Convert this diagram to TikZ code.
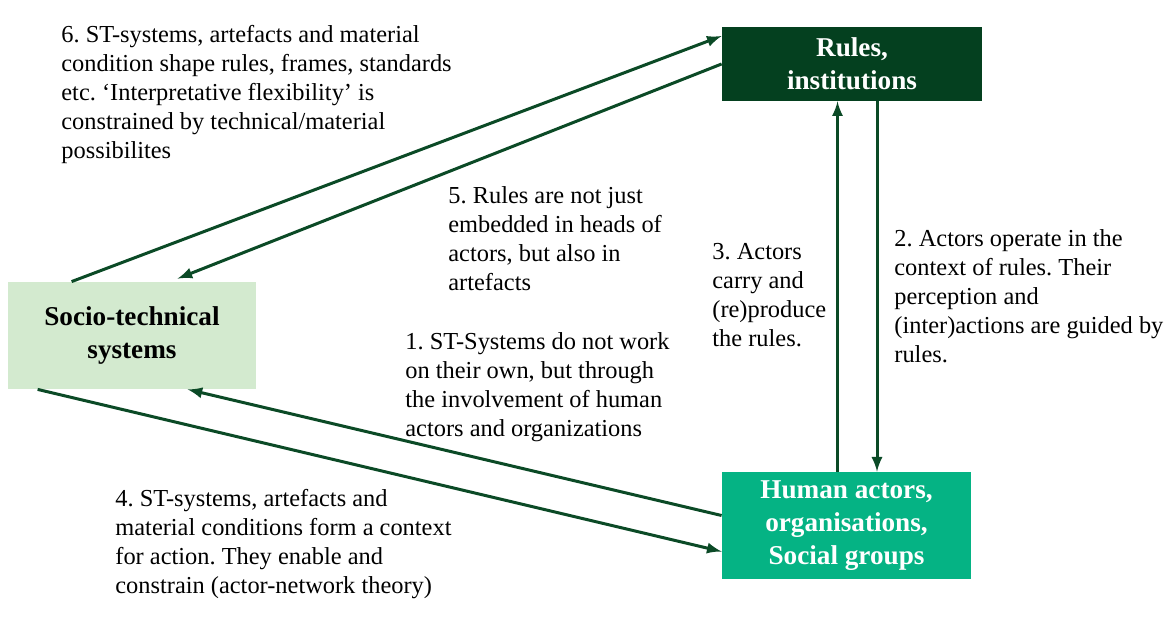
\documentclass[tikz,border=0pt]{standalone}
\usepackage{fontspec}
\setmainfont{Liberation Serif}
\frenchspacing
\definecolor{arrowgreen}{HTML}{0B4A26}
\definecolor{rulesgreen}{HTML}{04401F}
\definecolor{actorgreen}{HTML}{05B384}
\definecolor{stgreen}{HTML}{D3EACF}

\begin{document}
\begin{tikzpicture}[x=0.5pt,y=-0.5pt,
		box/.style={align=center, inner sep=0pt, font=\fontsize{13.6}{16.5}\selectfont\bfseries},
		note/.style={align=left, anchor=north west, inner sep=0pt, font=\fontsize{12.2}{14.5}\selectfont},
		link/.style={->, >=latex, line width=1.5pt, draw=arrowgreen}]
		\useasboundingbox (0,0) rectangle (1166,640);
		
		\node[box, fill=rulesgreen, text=white, minimum width=130pt, minimum height=37pt] (rules) at (852,64) {Rules,\\institutions};
		\node[box, fill=stgreen, text=black, minimum width=124pt, minimum height=53.5pt] (socio) at (132,335.5) {Socio-technical\\systems};
		\node[box, fill=actorgreen, text=white, minimum width=124.5pt, minimum height=53.5pt] (human) at (846.5,525.5) {Human actors,\\organisations,\\Social groups};
		
		\draw[link] ([xshift=32pt]socio.north west) -- ([yshift=14pt]rules.west);
		\draw[link] (rules.west) -- ([xshift=85pt,yshift=1.5pt]socio.north west);
		\draw[link] ([yshift=5pt]human.west) -- ([xshift=90pt]socio.south west);
		\draw[link] ([xshift=15pt]socio.south west) -- ([yshift=-13pt]human.west);
		\draw[link] ([xshift=-4.5pt]human.north) -- ([xshift=-4.5pt]human.north |- rules.south);
		\draw[link] ([xshift=12.5pt]rules.south) -- ([xshift=12.5pt]rules.south |- human.north);
		
		\node[note] (l6) at (61,25) {6. ST-systems, artefacts and material\\condition shape rules, frames, standards\\etc. `Interpretative flexibility' is\\constrained by technical/material\\possibilites};
		\node[note] (l5) at (448,186) {5. Rules are not just\\embedded in heads of\\actors, but also in\\artefacts};
		\node[note] (l3) at (712,243) {3. Actors\\carry and\\(re)produce\\the rules.};
		\node[note] (l2) at (894,229) {2. Actors operate in the\\context of rules. Their\\perception and\\(inter)actions are guided by\\rules.};
		\node[note] (l1) at (405,332) {1. ST-Systems do not work\\on their own, but through\\the involvement of human\\actors and organizations};
		\node[note] (l4) at (115,489) {4. ST-systems, artefacts and\\material conditions form a context\\for action. They enable and\\constrain (actor-network theory)};
	\end{tikzpicture}
\end{document}
